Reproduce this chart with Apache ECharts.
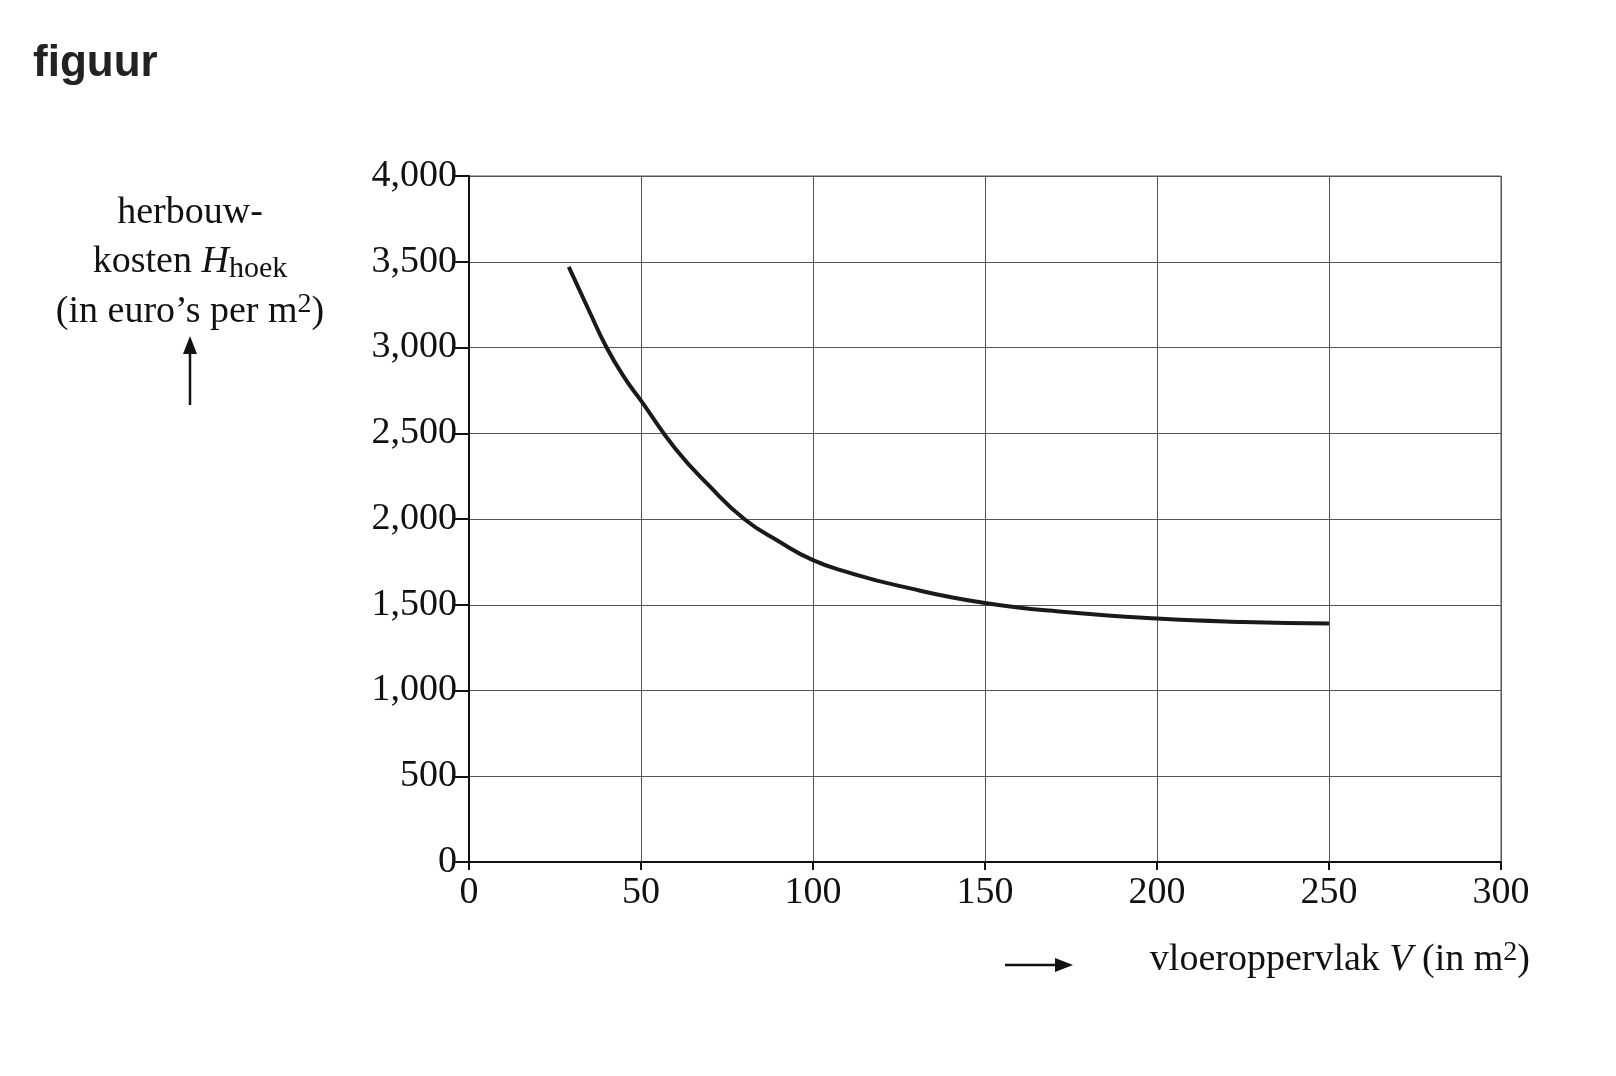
<!DOCTYPE html>
<html><head><meta charset="utf-8">
<script src="https://cdn.jsdelivr.net/npm/echarts@6/dist/echarts.min.js"></script>
<style>html,body{margin:0;padding:0;background:#fff}#c{width:1616px;height:1076px}</style>
</head><body><div id="c"></div>
<script>
const xValues = [29, 35, 40, 45, 50, 60, 70, 80, 90, 100, 110, 125, 150, 175, 200, 225, 250];
const yValues = [3470, 3210, 3000, 2830, 2690, 2410, 2190, 2000, 1870, 1760, 1690, 1610, 1510, 1455, 1420, 1400, 1390];
const xTicks = [0, 50, 100, 150, 200, 250, 300];
const yTicks = [0, 500, 1000, 1500, 2000, 2500, 3000, 3500, 4000];
const serif = '"Liberation Serif","DejaVu Serif",serif';
const chart = echarts.init(document.getElementById('c'));
chart.setOption({
  animation: false,
  grid: {left: 469, right: 115, top: 176, bottom: 214},
  xAxis: {type: 'value', min: 0, max: 300, interval: 50,
    axisLine: {lineStyle: {color: '#111', width: 2}},
    axisTick: {show: true, length: 8, lineStyle: {color: '#111', width: 2}},
    axisLabel: {color: '#111', fontFamily: serif, fontSize: 38, margin: 12},
    splitLine: {show: true, lineStyle: {color: '#555', width: 1}}},
  yAxis: {type: 'value', min: 0, max: 4000, interval: 500,
    axisLine: {show: true, lineStyle: {color: '#111', width: 2}},
    axisTick: {show: true, length: 15, lineStyle: {color: '#111', width: 2}},
    axisLabel: {color: '#111', fontFamily: serif, fontSize: 38, margin: 12},
    splitLine: {show: true, lineStyle: {color: '#555', width: 1}}},
  graphic: [
    {type: 'line', shape: {x1: 1501, y1: 176, x2: 1501, y2: 862}, style: {stroke: '#555', lineWidth: 1}},
    {type: 'line', shape: {x1: 469, y1: 176, x2: 1501, y2: 176}, style: {stroke: '#555', lineWidth: 1}},
    {type: 'text', left: 33, top: 42, style: {text: 'figuur', font: 'bold 44px "Liberation Sans",Arial,sans-serif', fill: '#222'}},
    {type: 'text', x: 190, y: 213, style: {text: 'herbouw-', font: '38px ' + serif, fill: '#111', textAlign: 'center', textVerticalAlign: 'middle'}},
    {type: 'text', x: 190, y: 262, style: {text: 'kosten {i|H}{sub|hoek}', font: '38px ' + serif, fill: '#111', textAlign: 'center', textVerticalAlign: 'middle',
      rich: {i: {fontStyle: 'italic', fontSize: 38, fontFamily: serif}, sub: {fontSize: 30, fontFamily: serif, padding: [14, 0, 0, 0]}}}},
    {type: 'text', x: 190, y: 312, style: {text: '(in euro’s per m{sup|2})', font: '38px ' + serif, fill: '#111', textAlign: 'center', textVerticalAlign: 'middle',
      rich: {sup: {fontSize: 28, fontFamily: serif, padding: [0, 0, 14, 0]}}}},
    {type: 'line', shape: {x1: 190, y1: 405, x2: 190, y2: 345}, style: {stroke: '#111', lineWidth: 2.5}},
    {type: 'polygon', shape: {points: [[190, 336], [183, 354], [197, 354]]}, style: {fill: '#111'}},
    {type: 'line', shape: {x1: 1005, y1: 965, x2: 1062, y2: 965}, style: {stroke: '#111', lineWidth: 2.5}},
    {type: 'polygon', shape: {points: [[1073, 965], [1055, 958], [1055, 972]]}, style: {fill: '#111'}},
    {type: 'text', x: 1530, y: 960, style: {text: 'vloeroppervlak {i|V} (in m{sup|2})', font: '38px ' + serif, fill: '#111', textAlign: 'right', textVerticalAlign: 'middle',
      rich: {i: {fontStyle: 'italic', fontSize: 38, fontFamily: serif}, sup: {fontSize: 28, fontFamily: serif, padding: [0, 0, 14, 0]}}}}
  ],
  series: [{type: 'line', smooth: true, showSymbol: false,
    lineStyle: {color: '#1a1a1a', width: 4},
    data: xValues.map((x, i) => [x, yValues[i]])}]
});
</script></body></html>
